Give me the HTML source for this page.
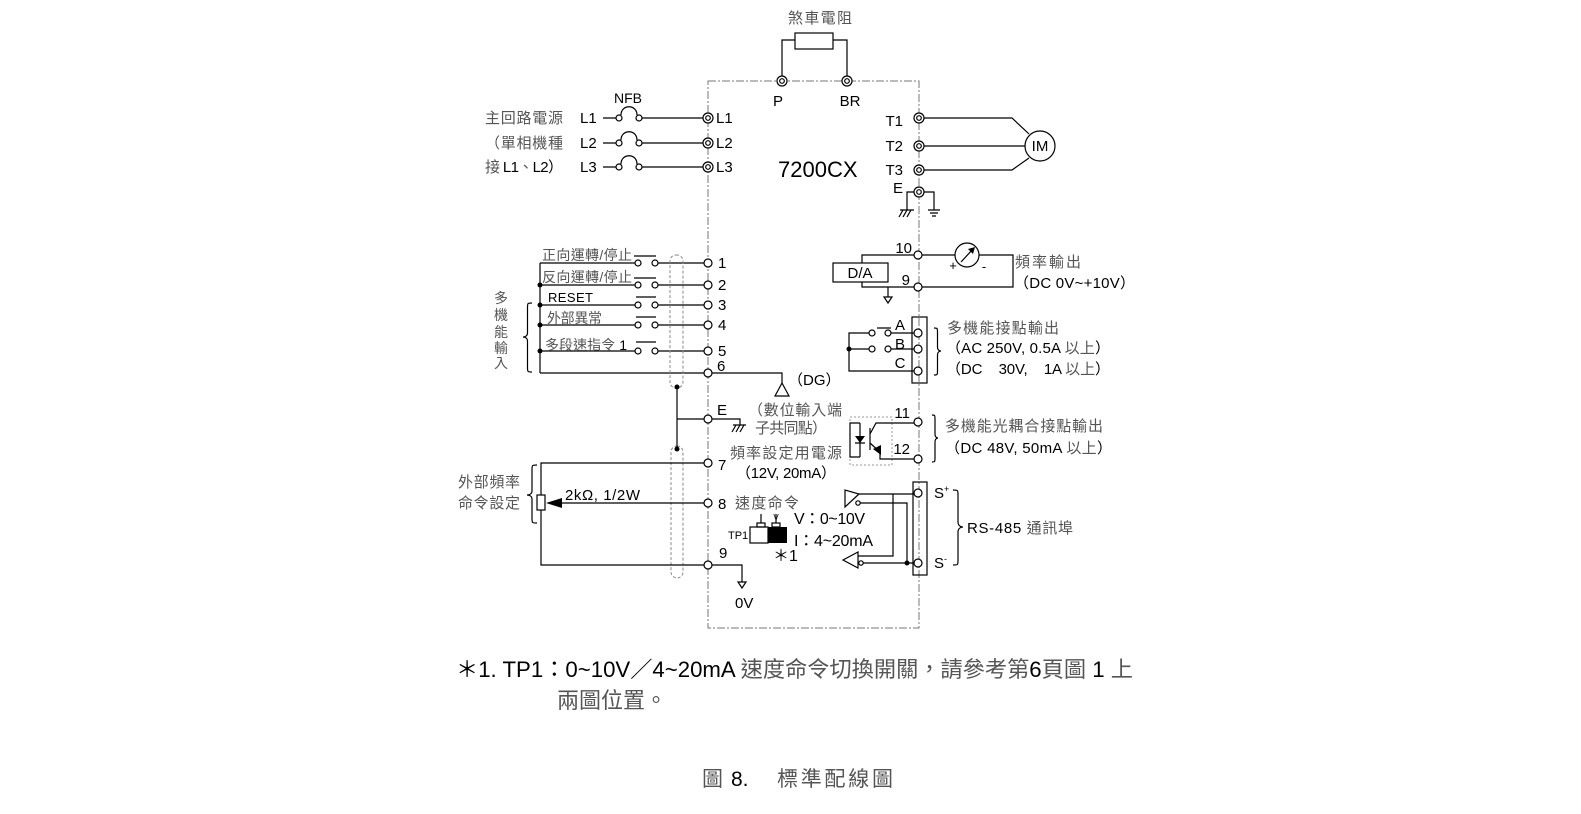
<!DOCTYPE html>
<html><head><meta charset="utf-8"><style>
html,body{margin:0;padding:0;background:#fff;}
svg{display:block;}
text{font-family:"Liberation Sans","Noto Sans CJK TC",sans-serif;fill:#000;}
.c{fill:#555;}
.s{font-size:15px;}
.m{font-size:14px;}
</style></head><body>
<svg width="1581" height="814" viewBox="0 0 1581 814" xmlns="http://www.w3.org/2000/svg">
<rect width="1581" height="814" fill="#fff"/>
<!-- main dashed box -->
<rect x="708" y="81" width="211" height="547" fill="none" stroke="#777" stroke-width="1" stroke-dasharray="8,2,2,2"/>

<g stroke="#000" stroke-width="1.2" fill="none">
<!-- braking resistor -->
<rect x="795" y="33" width="38" height="16"/>
<path d="M782,76 V40 H795 M833,40 H847 V76"/>
<!-- L inputs -->
<path d="M603,118 H616 M642,118 H703 M621,115 C621,104 637,104 637,115"/>
<path d="M603,143 H616 M642,143 H703 M621,140 C621,129 637,129 637,140"/>
<path d="M603,167 H616 M642,167 H703 M621,164 C621,153 637,153 637,164"/>
<!-- T outputs -->
<path d="M924,118 H1012 L1029,134 M924,146 H1025 M924,170 H1012 L1029,158"/>
<circle cx="1040" cy="146" r="15" fill="#fff"/>
<!-- E grounds -->
<path d="M914,192 H907 V210 M900,210 H914 M903,210 L899,217 M907,210 L903,217 M911,210 L907,217"/>
<path d="M924,192 H934 V210 M928,210 H940 M930,213 H938 M932,216 H936"/>

<!-- control inputs -->
<path d="M540,263 V373 M540,263 H635 M658,263 H704 M540,285 H635 M658,285 H704 M540,305 H635 M658,305 H704 M540,325 H635 M658,325 H704 M540,351 H635 M658,351 H704 M540,373 H704 M712,373 H782 V383"/>
<path d="M634,256 H656 M634,278 H656 M636,297 H656 M636,317 H656 M636,342 H656"/>
<polygon points="782,383 775,396 789,396"/>
<!-- brace multi input -->
<path d="M532,303 C527.5,303 527.5,303 527.5,308 L527.5,333 C527.5,337 523,337 523,337 C523,337 527.5,337 527.5,341 L527.5,367 C527.5,372 527.5,372 532,372"/>
<!-- shields -->
<rect x="670" y="255" width="13" height="133" rx="6" stroke="#888" stroke-width="1" stroke-dasharray="3,2"/>
<rect x="671" y="446" width="12" height="132" rx="6" stroke="#888" stroke-width="1" stroke-dasharray="3,2"/>
<path d="M677,387 V449 M677,419 H704 M712,419 H740 V425 M733,425 H746 M736,425 L732,432 M740,425 L736,432 M744,425 L740,432"/>
<!-- D/A & meter -->
<rect x="833" y="263" width="55" height="19"/>
<path d="M914,255 H955 M979,255 H1013 V287 H922 M914,287 H862 V282 M862,263 V255 H914 M888,287 V297"/>
<polygon points="884,297 892,297 888,303"/>
<circle cx="967" cy="255" r="12"/>
<path d="M961,262 L973,249"/>
<!-- relay -->
<rect x="912" y="317" width="15" height="66"/>
<path d="M914,333 H891 M869,333 H849 V371 H914 M914,349 H891 M869,349 H849 M877,328 H891"/>
<circle cx="872" cy="333" r="3" fill="#fff"/><circle cx="888" cy="333" r="3" fill="#fff"/>
<circle cx="872" cy="349" r="3" fill="#fff"/><circle cx="888" cy="349" r="3" fill="#fff"/>
<path d="M934,328 C937.5,328 937.5,328 937.5,333 L937.5,347 C937.5,351 941,351 941,351 C941,351 937.5,351 937.5,355 L937.5,370 C937.5,375 937.5,375 934,375"/>
<!-- opto -->
<rect x="850" y="417" width="42" height="48" stroke="#999" stroke-width="1" stroke-dasharray="2,2"/>
<path d="M860,423 H850 V457 H860 M860,423 V457 M855,443 H865"/>
<path d="M870,428 V450 M870,434 L876,423 H914 M870,443 L880,452 V459 H914"/>
<path d="M932,415 C935,415 935,415 935,420 L935,434 C935,438 938,438 938,438 C938,438 935,438 935,442 L935,457 C935,462 935,462 932,462"/>
<!-- RS485 -->
<rect x="913" y="482" width="14" height="93"/>
<path d="M859,494 H914 M893,494 V556 H858 M860,503 H907 V563 M863,563 H914"/>
<polygon points="845,490 845,507 859,494" fill="#fff"/>
<polygon points="843,560 858,552 858,568" fill="#fff"/>
<circle cx="858" cy="503" r="2.2" fill="#fff"/>
<circle cx="861" cy="563" r="2.2" fill="#fff"/>
<path d="M953,490 C958,490 958,490 958,495 L958,522 C958,527 963,527 963,527 C963,527 958,527 958,532 L958,560 C958,565 958,565 953,565"/>
<!-- analog -->
<rect x="537" y="495" width="8" height="15"/>
<path d="M704,463 H541 V495 M541,510 V565 H704 M704,503 H560"/>
<path d="M537,465 C532,465 532,465 532,470 L532,491 C532,495 527,495 527,495 C527,495 532,495 532,499 L532,518 C532,523 532,523 537,523"/>
<path d="M712,565 H742 V582"/>
<polygon points="738,582 746,582 742,588"/>
<!-- TP1 -->
<rect x="750" y="527" width="18" height="16"/>
<rect x="757" y="523" width="8" height="4"/>
<rect x="772" y="523" width="8" height="4"/>
<path d="M761,514 V523 M776,514 V523"/>
</g>
<rect x="768" y="527" width="19" height="16" fill="#000"/>
<polygon points="546,503 562,498 562,508" fill="#000"/>
<polygon points="873,449 881,445 881,455" fill="#000"/>
<polygon points="855,436 865,436 860,443" fill="#000"/>
<polygon points="975,247 968,249 973,254" fill="#000"/>
<!-- dots -->
<g fill="#000">
<circle cx="540" cy="285" r="2.5"/><circle cx="540" cy="305" r="2.5"/><circle cx="540" cy="325" r="2.5"/><circle cx="540" cy="351" r="2.5"/>
<circle cx="677" cy="387" r="2.5"/><circle cx="677" cy="449" r="2.5"/>
<circle cx="849" cy="349" r="2.5"/><circle cx="907" cy="563" r="2.5"/>
</g>
<!-- switch contacts & NFB circles -->
<g stroke="#000" stroke-width="1.2" fill="#fff">
<circle cx="638" cy="263" r="3"/><circle cx="655" cy="263" r="3"/>
<circle cx="638" cy="285" r="3"/><circle cx="655" cy="285" r="3"/>
<circle cx="638" cy="305" r="3"/><circle cx="655" cy="305" r="3"/>
<circle cx="638" cy="325" r="3"/><circle cx="655" cy="325" r="3"/>
<circle cx="638" cy="351" r="3"/><circle cx="655" cy="351" r="3"/>
<circle cx="619" cy="118" r="3"/><circle cx="639" cy="118" r="3"/>
<circle cx="619" cy="143" r="3"/><circle cx="639" cy="143" r="3"/>
<circle cx="619" cy="167" r="3"/><circle cx="639" cy="167" r="3"/>
<!-- single terminals -->
<circle cx="708" cy="263" r="4"/><circle cx="708" cy="285" r="4"/><circle cx="708" cy="305" r="4"/>
<circle cx="708" cy="325" r="4"/><circle cx="708" cy="351" r="4"/><circle cx="708" cy="373" r="4"/>
<circle cx="708" cy="419" r="4"/><circle cx="708" cy="463" r="4"/><circle cx="708" cy="503" r="4"/><circle cx="708" cy="565" r="4"/>
<circle cx="918" cy="255" r="4"/><circle cx="918" cy="287" r="4"/>
<circle cx="918" cy="333" r="4"/><circle cx="918" cy="349" r="4"/><circle cx="918" cy="371" r="4"/>
<circle cx="918" cy="422" r="4"/><circle cx="918" cy="459" r="4"/>
<circle cx="918" cy="493" r="4"/><circle cx="918" cy="563" r="4"/>
<!-- double terminals -->
<circle cx="782" cy="81" r="5"/><circle cx="782" cy="81" r="2.3"/>
<circle cx="847" cy="81" r="5"/><circle cx="847" cy="81" r="2.3"/>
<circle cx="708" cy="118" r="5"/><circle cx="708" cy="118" r="2.3"/>
<circle cx="708" cy="143" r="5"/><circle cx="708" cy="143" r="2.3"/>
<circle cx="708" cy="167" r="5"/><circle cx="708" cy="167" r="2.3"/>
<circle cx="919" cy="118" r="5"/><circle cx="919" cy="118" r="2.3"/>
<circle cx="919" cy="146" r="5"/><circle cx="919" cy="146" r="2.3"/>
<circle cx="919" cy="170" r="5"/><circle cx="919" cy="170" r="2.3"/>
<circle cx="919" cy="192" r="5"/><circle cx="919" cy="192" r="2.3"/>
</g>

<!-- TEXT -->
<text x="820" y="23" text-anchor="middle" class="s c" textLength="64">煞車電阻</text>
<text x="778" y="106" text-anchor="middle" class="s">P</text>
<text x="850" y="106" text-anchor="middle" class="s">BR</text>
<text x="628" y="103" text-anchor="middle" class="m">NFB</text>
<text x="580" y="123" class="s">L1</text>
<text x="580" y="148" class="s">L2</text>
<text x="580" y="172" class="s">L3</text>
<text x="716" y="123" class="s">L1</text>
<text x="716" y="148" class="s">L2</text>
<text x="716" y="172" class="s">L3</text>
<text x="485" y="123" class="s c" textLength="78">主回路電源</text>
<text x="485" y="148" class="s c" textLength="78">（單相機種</text>
<text x="485" y="172" class="s" textLength="78"><tspan class="c">接</tspan> L1<tspan class="c">、</tspan>L2）</text>
<text x="778" y="177" font-size="22">7200CX</text>
<text x="903" y="126" text-anchor="end" class="s">T1</text>
<text x="903" y="151" text-anchor="end" class="s">T2</text>
<text x="903" y="175" text-anchor="end" class="s">T3</text>
<text x="898" y="193" text-anchor="middle" class="s">E</text>
<text x="1040" y="151" text-anchor="middle" class="s">IM</text>

<text x="542" y="260" class="m c" textLength="90">正向運轉/停止</text>
<text x="542" y="282" class="m c" textLength="90">反向運轉/停止</text>
<text x="548" y="302" font-size="13" textLength="45">RESET</text>
<text x="547" y="323" class="m c" textLength="55">外部異常</text>
<text x="545" y="350" class="m" textLength="82"><tspan class="c">多段速指令</tspan> 1</text>
<text x="501" y="303" text-anchor="middle" class="m c">多</text>
<text x="501" y="320" text-anchor="middle" class="m c">機</text>
<text x="501" y="337" text-anchor="middle" class="m c">能</text>
<text x="501" y="353" text-anchor="middle" class="m c">輸</text>
<text x="501" y="368" text-anchor="middle" class="m c">入</text>
<text x="718" y="268" class="s">1</text>
<text x="718" y="290" class="s">2</text>
<text x="718" y="310" class="s">3</text>
<text x="718" y="330" class="s">4</text>
<text x="718" y="356" class="s">5</text>
<text x="717" y="371" class="s">6</text>
<text x="717" y="415" class="s">E</text>
<text x="718" y="470" class="s">7</text>
<text x="718" y="509" class="s">8</text>
<text x="719" y="558" class="s">9</text>
<text x="788" y="385" class="s">（DG）</text>
<text x="748" y="415" class="s c" textLength="94">（數位輸入端</text>
<text x="755" y="433" class="s c" textLength="72">子共同點）</text>
<text x="730" y="458" class="s c" textLength="112">頻率設定用電源</text>
<text x="736" y="478" class="s" textLength="100">（12V, 20mA）</text>

<text x="565" y="500" class="s" textLength="75">2kΩ, 1/2W</text>
<text x="458" y="487" class="s c" textLength="62">外部頻率</text>
<text x="458" y="508" class="s c" textLength="62">命令設定</text>
<text x="735" y="608" class="s">0V</text>
<text x="735" y="508" class="s c" textLength="64">速度命令</text>
<text x="761" y="520" text-anchor="middle" font-size="8">I</text>
<text x="776" y="520" text-anchor="middle" font-size="8">V</text>
<text x="728" y="539" font-size="11">TP1</text>
<text x="794" y="524" font-size="16" textLength="71">V：0~10V</text>
<text x="794" y="546" font-size="16" textLength="79">I：4~20mA</text>
<text x="773" y="561" font-size="16">＊1</text>

<text x="912" y="253" text-anchor="end" class="s">10</text>
<text x="910" y="285" text-anchor="end" class="s">9</text>
<text x="860" y="278" text-anchor="middle" class="s">D/A</text>
<text x="953" y="270" text-anchor="middle" font-size="13">+</text>
<text x="984" y="271" text-anchor="middle" font-size="13">-</text>
<text x="1015" y="267" class="s c" textLength="66">頻率輸出</text>
<text x="1014" y="288" class="s" textLength="121">（DC 0V~+10V）</text>
<text x="900" y="330" text-anchor="middle" class="s">A</text>
<text x="900" y="349" text-anchor="middle" class="s">B</text>
<text x="900" y="368" text-anchor="middle" class="s">C</text>
<text x="947" y="333" class="s c" textLength="112">多機能接點輸出</text>
<text x="946" y="353" class="s" textLength="164">（AC 250V, 0.5A <tspan class="c">以上</tspan>）</text>
<text x="946" y="374" class="s" textLength="164" xml:space="preserve">（DC    30V,    1A <tspan class="c">以上</tspan>）</text>
<text x="910" y="418" text-anchor="end" class="s">11</text>
<text x="910" y="454" text-anchor="end" class="s">12</text>
<text x="945" y="431" class="s c" textLength="158">多機能光耦合接點輸出</text>
<text x="945" y="453" class="s" textLength="167">（DC 48V, 50mA <tspan class="c">以上</tspan>）</text>
<text x="934" y="498" class="s">S<tspan font-size="9" dy="-6">+</tspan></text>
<text x="934" y="568" class="s">S<tspan font-size="9" dy="-6">-</tspan></text>
<text x="967" y="533" class="s" textLength="106">RS-485 <tspan class="c">通訊埠</tspan></text>

<text x="456" y="677" font-size="22" textLength="677" lengthAdjust="spacingAndGlyphs">＊1. TP1：0~10V／4~20mA <tspan class="c">速度命令切換開關，請參考第</tspan>6<tspan class="c">頁圖</tspan> 1 <tspan class="c">上</tspan></text>
<text x="557" y="708" font-size="22" class="c">兩圖位置。</text>
<text x="702" y="786" font-size="21" class="c">圖</text>
<text x="731" y="786" font-size="21">8.</text>
<text x="777" y="786" font-size="21" class="c" textLength="116">標準配線圖</text>
</svg>
</body></html>
